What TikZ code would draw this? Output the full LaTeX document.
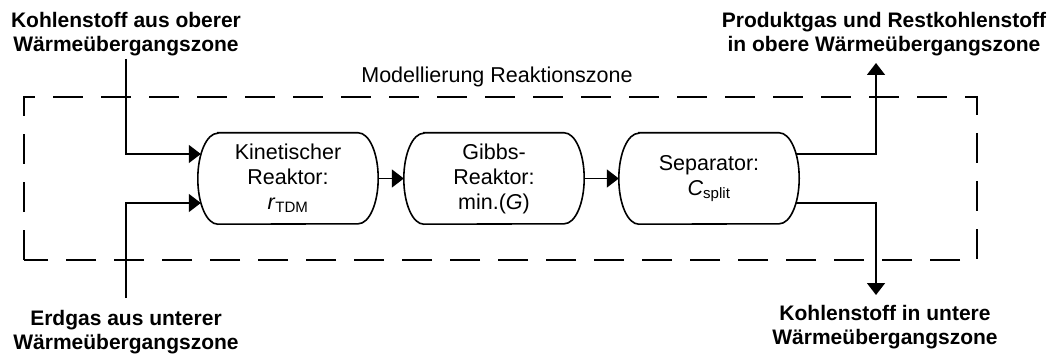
\documentclass[tikz,border=0pt]{standalone}
\usepackage{fontspec}
\setmainfont{Liberation Sans}
\usetikzlibrary{arrows.meta}
\begin{document}
\begin{tikzpicture}[x=1pt,y=-1pt,
  conn/.style={line width=1.7pt,-{Triangle[length=12pt,width=18pt]}},
  plain/.style={line width=1.6pt},
  zone/.style={line width=2pt,dash pattern=on 30pt off 18pt},
  capsule/.style={minimum width=180pt,minimum height=91pt,inner sep=0pt,align=center,
    font=\fontsize{21.5}{25}\selectfont},
  lbl/.style={font=\bfseries\fontsize{21}{24}\selectfont,align=center,inner sep=0pt,anchor=north},
  ttl/.style={font=\fontsize{21.5}{24}\selectfont,inner sep=0pt}]
\useasboundingbox (0,0) rectangle (1056,358);
% zone
\draw[zone] (24,260) -- (24,97) -- (977,97) -- (977,260) -- cycle;
\node[ttl] (title) at (497,77) {Modellierung Reaktionszone};
% process nodes
\node[capsule] (k) at (288,178.5) {Kinetischer\\Reaktor:\\\textit{r}\textsubscript{TDM}};
\node[capsule] (g) at (494,178.5) {Gibbs-\\Reaktor:\\min.(\textit{G})};
\node[capsule] (s) at (709,178.5) {Separator:\\\textit{C}\textsubscript{split}};
\foreach \n in {k,g,s}
  \draw[plain] ([xshift=20pt]\n.north west) -- ([xshift=-20pt]\n.north east)
    arc[start angle=90,end angle=-90,x radius=20pt,y radius=45.5pt]
    -- ([xshift=20pt]\n.south west)
    arc[start angle=270,end angle=90,x radius=20pt,y radius=45.5pt] -- cycle;
% labels
\node[lbl] (tl) at (126,12) {Kohlenstoff aus oberer\\Wärmeübergangszone};
\node[lbl] (tr) at (884,12) {Produktgas und Restkohlenstoff\\in obere Wärmeübergangszone};
\node[lbl] (bl) at (126,310) {Erdgas aus unterer\\Wärmeübergangszone};
\node[lbl] (br) at (885,305) {Kohlenstoff in untere\\Wärmeübergangszone};
% free ends
\coordinate (inTop) at (126,59);
\coordinate (inBot) at (126,298);
\coordinate (outTop) at (876,63);
\coordinate (outBot) at (876,295);
% connectors
\draw[conn] (inTop) |- ([xshift=3pt,yshift=24.5pt]k.west);
\draw[conn] (inBot) |- ([xshift=3pt,yshift=-24.5pt]k.west);
\draw[conn] (k.east) -- (g.west);
\draw[conn] (g.east) -- (s.west);
\draw[conn] ([xshift=-3pt,yshift=24.5pt]s.east) -| (outTop);
\draw[conn] ([xshift=-3pt,yshift=-24.5pt]s.east) -| (outBot);
\end{tikzpicture}
\end{document}
